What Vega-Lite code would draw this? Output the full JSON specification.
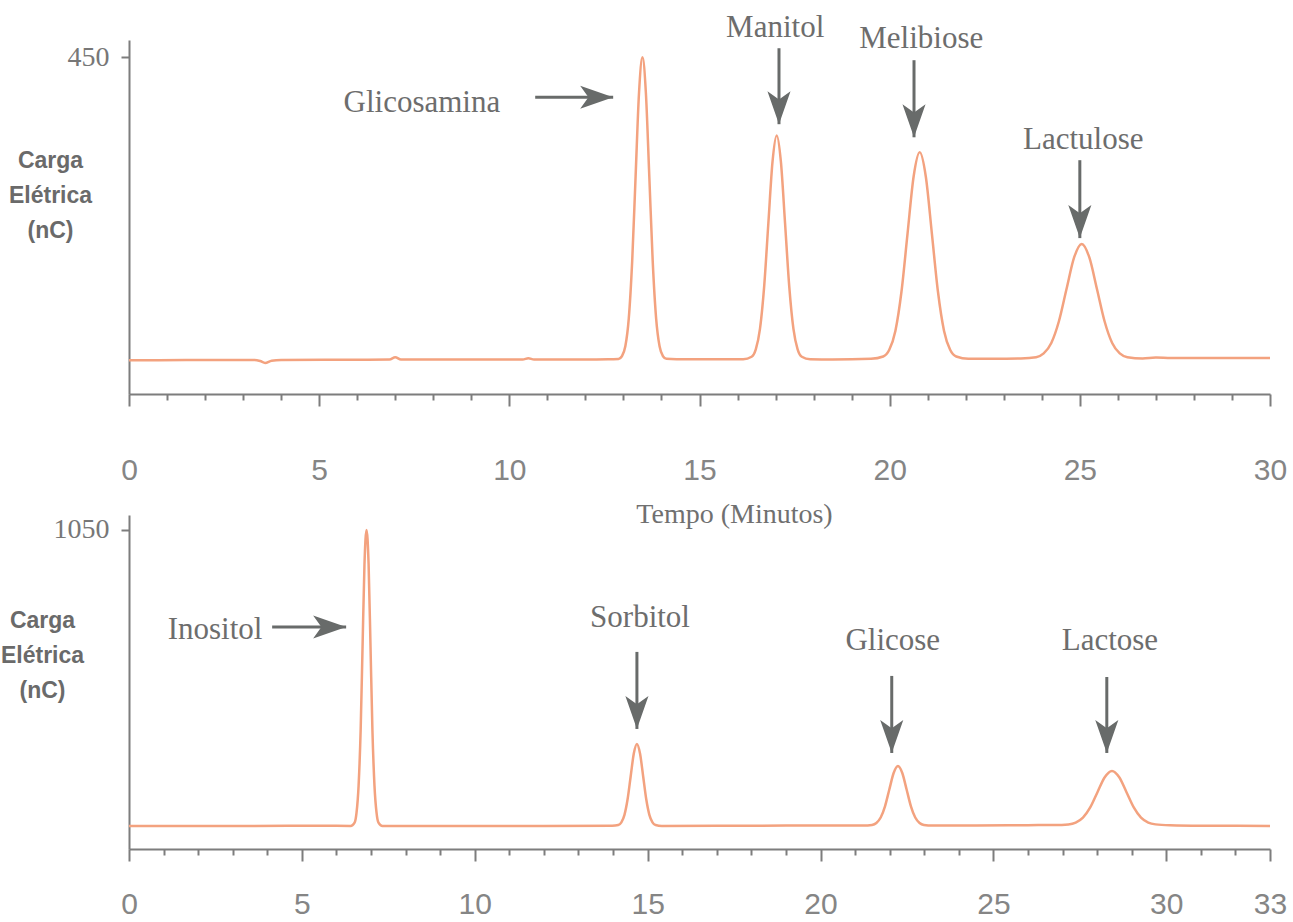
{
  "$schema": "https://vega.github.io/schema/vega-lite/v6.json",
  "background": "white",
  "padding": {"left": 0, "top": 12, "right": 5, "bottom": 5},
  "bounds": "flush",
  "spacing": 121,
  "config": {
    "view": {"stroke": null},
    "axis": {"grid": false, "domainColor": "#7d7d7d", "tickColor": "#7d7d7d", "domainWidth": 2, "tickWidth": 2, "labelColor": "#858585", "labelFlush": false}
  },
  "datasets": {
    "top": [
      {"t":0,"v":45},{"t":1.5,"v":45.3},{"t":3.3,"v":45.5},{"t":3.45,"v":44},{"t":3.58,"v":41.5},{"t":3.75,"v":44.5},{"t":4,"v":45.3},{"t":6.0,"v":45.8},{"t":6.85,"v":46},{"t":7.0,"v":49},{"t":7.15,"v":46},{"t":9,"v":46},{"t":10.35,"v":46},{"t":10.5,"v":47.8},{"t":10.65,"v":46},{"t":12.0,"v":46.2},{"t":12.6,"v":46.3},
      {"t":12.87,"v":46.9},{"t":12.96,"v":50.5},{"t":13.05,"v":63.7},{"t":13.14,"v":100.7},{"t":13.23,"v":177.2},{"t":13.32,"v":291},{"t":13.41,"v":402.5},{"t":13.5,"v":450},{"t":13.59,"v":402.5},{"t":13.68,"v":291},{"t":13.77,"v":177.2},{"t":13.86,"v":100.7},{"t":13.95,"v":63.7},{"t":14.04,"v":50.5},{"t":14.13,"v":47},{"t":14.4,"v":46.5},{"t":15.5,"v":46.3},
      {"t":16.15,"v":46.5},{"t":16.37,"v":49.8},{"t":16.48,"v":59.6},{"t":16.59,"v":87},{"t":16.7,"v":143.6},{"t":16.81,"v":227.8},{"t":16.92,"v":310.4},{"t":17.03,"v":345.5},{"t":17.14,"v":310.4},{"t":17.25,"v":227.8},{"t":17.36,"v":143.6},{"t":17.47,"v":87},{"t":17.58,"v":59.6},{"t":17.69,"v":49.8},{"t":17.91,"v":46.5},{"t":18.5,"v":46.2},
      {"t":19.51,"v":47},{"t":19.83,"v":50.1},{"t":19.99,"v":59.1},{"t":20.15,"v":84.3},{"t":20.31,"v":136.6},{"t":20.47,"v":214.4},{"t":20.63,"v":290.6},{"t":20.79,"v":323},{"t":20.95,"v":290.6},{"t":21.11,"v":214.4},{"t":21.27,"v":136.6},{"t":21.43,"v":84.3},{"t":21.59,"v":59.1},{"t":21.75,"v":50.1},{"t":22.07,"v":47},{"t":23,"v":47.2},
      {"t":23.45,"v":47.5},{"t":23.85,"v":49.2},{"t":24.05,"v":54.2},{"t":24.25,"v":68.2},{"t":24.45,"v":97.2},{"t":24.65,"v":140.3},{"t":24.85,"v":182.5},{"t":25.05,"v":200.5},{"t":25.25,"v":182.5},{"t":25.45,"v":140.3},{"t":25.65,"v":97.2},{"t":25.85,"v":68.2},{"t":26.05,"v":54.2},{"t":26.25,"v":49.2},{"t":26.65,"v":47.5},{"t":27.0,"v":48.8},{"t":27.4,"v":48},{"t":30,"v":48}
    ],
    "bottom": [
      {"t":0,"v":76},{"t":3,"v":76},{"t":6.0,"v":76.2},{"t":6.41,"v":76},{"t":6.525,"v":86.8},{"t":6.58,"v":118.8},{"t":6.64,"v":207.8},{"t":6.70,"v":392.3},{"t":6.755,"v":666.7},{"t":6.81,"v":935.6},{"t":6.87,"v":1050},{"t":6.93,"v":935.6},{"t":6.985,"v":666.7},{"t":7.04,"v":392.3},{"t":7.10,"v":207.8},{"t":7.16,"v":118.8},{"t":7.215,"v":86.8},{"t":7.33,"v":76},{"t":8,"v":76},{"t":10,"v":75.5},{"t":12,"v":76},
      {"t":13.97,"v":76.5},{"t":14.15,"v":79},{"t":14.24,"v":87.8},{"t":14.33,"v":112.5},{"t":14.42,"v":163.5},{"t":14.51,"v":239.5},{"t":14.60,"v":313.9},{"t":14.69,"v":345.6},{"t":14.78,"v":313.9},{"t":14.87,"v":239.5},{"t":14.96,"v":163.5},{"t":15.05,"v":112.5},{"t":15.14,"v":87.8},{"t":15.23,"v":79},{"t":15.41,"v":76},{"t":17,"v":76.5},{"t":19,"v":77},
      {"t":21.24,"v":77},{"t":21.49,"v":79.2},{"t":21.615,"v":85.6},{"t":21.74,"v":103.5},{"t":21.865,"v":140.6},{"t":21.99,"v":195.9},{"t":22.115,"v":250},{"t":22.24,"v":273},{"t":22.365,"v":250},{"t":22.49,"v":195.9},{"t":22.615,"v":140.6},{"t":22.74,"v":103.5},{"t":22.865,"v":85.6},{"t":22.99,"v":79.2},{"t":23.24,"v":77},{"t":24.5,"v":77.5},{"t":26,"v":78.5},
      {"t":26.75,"v":79},{"t":27.17,"v":81},{"t":27.38,"v":86.8},{"t":27.59,"v":103.1},{"t":27.80,"v":136.8},{"t":28.01,"v":187},{"t":28.22,"v":236.1},{"t":28.43,"v":257},{"t":28.64,"v":236.1},{"t":28.85,"v":187},{"t":29.06,"v":136.8},{"t":29.27,"v":103.1},{"t":29.48,"v":86.8},{"t":29.69,"v":81},{"t":30.11,"v":78},{"t":31,"v":76.5},{"t":33,"v":76}
    ],
    "topText": [
      {"t":7.70,"v":388.5,"label":"Glicosamina"},
      {"t":16.99,"v":488.7,"label":"Manitol"},
      {"t":20.83,"v":475,"label":"Melibiose"},
      {"t":25.09,"v":339,"label":"Lactulose"}
    ],
    "topArrows": [
      {"t":12.73,"v":396.5,"t2":10.68,"v2":396.5,"dir":"right"},
      {"t":17.09,"v":360.5,"t2":17.09,"v2":462,"dir":"down"},
      {"t":20.64,"v":343,"t2":20.64,"v2":446,"dir":"down"},
      {"t":25.0,"v":208.3,"t2":25.0,"v2":312.4,"dir":"down"}
    ],
    "bottomText": [
      {"t":2.49,"v":721,"label":"Inositol"},
      {"t":14.78,"v":760.4,"label":"Sorbitol"},
      {"t":22.09,"v":684.7,"label":"Glicose"},
      {"t":28.37,"v":684.7,"label":"Lactose"}
    ],
    "bottomArrows": [
      {"t":6.28,"v":730.7,"t2":4.14,"v2":730.7,"dir":"right"},
      {"t":14.69,"v":395,"t2":14.69,"v2":648.5,"dir":"down"},
      {"t":22.06,"v":316,"t2":22.06,"v2":569.5,"dir":"down"},
      {"t":28.28,"v":316,"t2":28.28,"v2":566,"dir":"down"}
    ]
  },
  "vconcat": [
    {
      "width": 1141,
      "height": 354,
      "encoding": {
        "x": {"field": "t", "type": "quantitative",
          "scale": {"domain": [0, 30], "nice": false, "zero": false},
          "axis": {
            "title": "Tempo (Minutos)",
            "values": [0,1,2,3,4,5,6,7,8,9,10,11,12,13,14,15,16,17,18,19,20,21,22,23,24,25,26,27,28,29,30],
            "labelExpr": "datum.value % 5 === 0 ? datum.label : ''",
            "tickSize": {"condition": {"test": "datum.value % 5 === 0", "value": 12}, "value": 6},
            "labelPadding": 49,
            "labelFont": "Liberation Sans", "labelFontSize": 30, "labelFontWeight": "normal",
            "labelOverlap": false,
            "titleFont": "Liberation Serif", "titleFontSize": 28, "titleFontWeight": "normal", "titleColor": "#707070",
            "titleX": 605, "titleY": 120, "titleBaseline": "middle", "titleAlign": "center"
          }
        },
        "y": {"field": "v", "type": "quantitative",
          "scale": {"domain": [0, 473], "nice": false, "zero": false},
          "axis": {
            "values": [450],
            "format": "d",
            "tickSize": 8,
            "labelPadding": 12,
            "labelFont": "Liberation Serif", "labelFontSize": 28, "labelColor": "#777777",
            "title": ["Carga", "Elétrica", "(nC)"],
            "titleAngle": 0, "titleFont": "Liberation Sans", "titleFontWeight": "bold", "titleFontSize": 23, "titleColor": "#6a6a6a",
            "titleX": -79, "titleY": 120, "titleAlign": "center", "titleBaseline": "middle", "titleLineHeight": 35
          }
        }
      },
      "layer": [
        {"data": {"name": "top"}, "mark": {"type": "line", "color": "#f3a27f", "strokeWidth": 2.5, "interpolate": "monotone"}},
        {"data": {"name": "topArrows"}, "mark": {"type": "rule", "color": "#686b6a", "strokeWidth": 3}, "encoding": {"x2": {"field": "t2"}, "y2": {"field": "v2"}}},
        {"data": {"name": "topArrows"}, "transform": [{"filter": "datum.dir === 'down'"}], "mark": {"type": "point", "shape": "M0,1L-0.7,-1L0,-0.5L0.7,-1Z", "size": 1089, "filled": true, "color": "#686b6a", "opacity": 1, "yOffset": -16.5}},
        {"data": {"name": "topArrows"}, "transform": [{"filter": "datum.dir === 'right'"}], "mark": {"type": "point", "shape": "M1,0L-1,-0.7L-0.5,0L-1,0.7Z", "size": 1089, "filled": true, "color": "#686b6a", "opacity": 1, "xOffset": -16.5}},
        {"data": {"name": "topText"}, "mark": {"type": "text", "font": "Liberation Serif", "fontSize": 31, "color": "#6d6d6d", "align": "center", "baseline": "middle"}, "encoding": {"text": {"field": "label"}}}
      ]
    },
    {
      "width": 1141,
      "height": 334,
      "encoding": {
        "x": {"field": "t", "type": "quantitative",
          "scale": {"domain": [0, 33], "nice": false, "zero": false},
          "axis": {
            "title": null,
            "values": [0,1,2,3,4,5,6,7,8,9,10,11,12,13,14,15,16,17,18,19,20,21,22,23,24,25,26,27,28,29,30,31,32,33],
            "labelExpr": "(datum.value % 5 === 0 || datum.value === 33) ? datum.label : ''",
            "tickSize": {"condition": {"test": "datum.value % 5 === 0 || datum.value === 33", "value": 12}, "value": 6},
            "labelPadding": 28,
            "labelFont": "Liberation Sans", "labelFontSize": 30, "labelFontWeight": "normal",
            "labelOverlap": false
          }
        },
        "y": {"field": "v", "type": "quantitative",
          "scale": {"domain": [0, 1099], "nice": false, "zero": false},
          "axis": {
            "values": [1050],
            "format": "d",
            "tickSize": 8,
            "labelPadding": 12,
            "labelFont": "Liberation Serif", "labelFontSize": 28, "labelColor": "#777777",
            "title": ["Carga", "Elétrica", "(nC)"],
            "titleAngle": 0, "titleFont": "Liberation Sans", "titleFontWeight": "bold", "titleFontSize": 23, "titleColor": "#6a6a6a",
            "titleX": -87, "titleY": 105, "titleAlign": "center", "titleBaseline": "middle", "titleLineHeight": 35
          }
        }
      },
      "layer": [
        {"data": {"name": "bottom"}, "mark": {"type": "line", "color": "#f3a27f", "strokeWidth": 2.5, "interpolate": "monotone"}},
        {"data": {"name": "bottomArrows"}, "mark": {"type": "rule", "color": "#686b6a", "strokeWidth": 3}, "encoding": {"x2": {"field": "t2"}, "y2": {"field": "v2"}}},
        {"data": {"name": "bottomArrows"}, "transform": [{"filter": "datum.dir === 'down'"}], "mark": {"type": "point", "shape": "M0,1L-0.7,-1L0,-0.5L0.7,-1Z", "size": 1089, "filled": true, "color": "#686b6a", "opacity": 1, "yOffset": -16.5}},
        {"data": {"name": "bottomArrows"}, "transform": [{"filter": "datum.dir === 'right'"}], "mark": {"type": "point", "shape": "M1,0L-1,-0.7L-0.5,0L-1,0.7Z", "size": 1089, "filled": true, "color": "#686b6a", "opacity": 1, "xOffset": -16.5}},
        {"data": {"name": "bottomText"}, "mark": {"type": "text", "font": "Liberation Serif", "fontSize": 31, "color": "#6d6d6d", "align": "center", "baseline": "middle"}, "encoding": {"text": {"field": "label"}}}
      ]
    }
  ]
}
